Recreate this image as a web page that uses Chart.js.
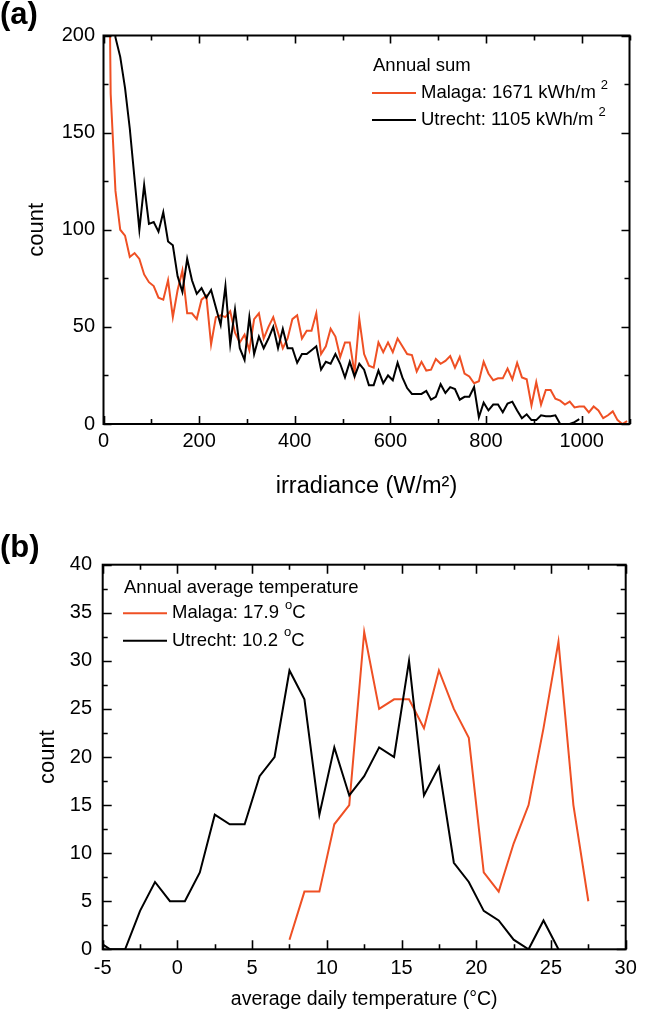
<!DOCTYPE html>
<html>
<head>
<meta charset="utf-8">
<title>Irradiance and daily temperature distributions</title>
<script src="https://cdn.jsdelivr.net/npm/chart.js@4.4.1/dist/chart.umd.min.js"></script>
<style>
  html, body { margin: 0; padding: 0; background: #fff; }
  #page { position: relative; width: 647px; height: 1021px; overflow: hidden; }
  #page canvas { position: absolute; left: 0; }
  #irr-chart { top: 0; }
  #temp-chart { top: 510px; }
  .panel-label { position: absolute; left: 0; font: bold 31px "Liberation Sans", Arial, sans-serif; line-height: 32px; }
</style>
</head>
<body>
<div id="page">
  <canvas id="irr-chart" width="647" height="510"></canvas>
  <canvas id="temp-chart" width="647" height="511"></canvas>
  <div class="panel-label" style="top:-2px">(a)</div>
  <div class="panel-label" style="top:531px">(b)</div>
</div>
<script>
// Panel (a): irradiance histogram, bin centres in W/m2
const irrMalagaX = [
    5, 15, 25, 35, 45, 55, 65, 75, 85, 95,
    105, 115, 125, 135, 145, 155, 165, 175, 185, 195,
    205, 215, 225, 235, 245, 255, 265, 275, 285, 295,
    305, 315, 325, 335, 345, 355, 365, 375, 385, 395,
    405, 415, 425, 435, 445, 455, 465, 475, 485, 495,
    505, 515, 525, 535, 545, 555, 565, 575, 585, 595,
    605, 615, 625, 635, 645, 655, 665, 675, 685, 695,
    705, 715, 725, 735, 745, 755, 765, 775, 785, 795,
    805, 815, 825, 835, 845, 855, 865, 875, 885, 895,
    905, 915, 925, 935, 945, 955, 965, 975, 985, 995,
    1005, 1015, 1025, 1035, 1045, 1055, 1065, 1075, 1085, 1095
];
const irrMalaga = [
    400, 170, 120, 100, 97, 86, 88, 85, 77, 73,
    71, 65, 64, 74, 55, 69, 79, 57, 57, 54,
    64, 66, 41, 55, 56, 55, 58, 47, 42, 46,
    38, 54, 57, 44, 50, 55, 47, 39, 44, 54,
    56, 44, 48, 48, 57, 36, 40, 49, 45, 34.5,
    42, 42, 26, 54, 36, 30, 29, 42, 37, 42,
    37, 44, 40, 36, 35.5, 27, 32, 27.5, 28, 33.5,
    31, 32.5, 35, 29, 34.5, 26, 24.5, 21, 22, 32,
    26, 22.5, 23.5, 23.5, 28.5, 23, 31.5, 24, 23, 9.5,
    21.5, 10, 17.5, 17.5, 13, 12, 10, 11.5, 8.5, 9,
    9, 6, 9, 7, 3, 4.5, 6.5, 2, 0, 1.5
];
const irrUtrechtX = [
    15, 25, 35, 45, 55, 65, 75, 85, 95,
    105, 115, 125, 135, 145, 155, 165, 175, 185, 195,
    205, 215, 225, 235, 245, 255, 265, 275, 285, 295,
    305, 315, 325, 335, 345, 355, 365, 375, 385, 395,
    405, 415, 425, 435, 445, 455, 465, 475, 485, 495,
    505, 515, 525, 535, 545, 555, 565, 575, 585, 595,
    605, 615, 625, 635, 645, 655, 665, 675, 685, 695,
    705, 715, 725, 735, 745, 755, 765, 775, 785, 795,
    805, 815, 825, 835, 845, 855, 865, 875, 885, 895,
    905, 915, 925, 935, 945, 955, 965, 975, 985, 995
];
const irrUtrecht = [
    300, 199, 189, 173, 152, 126, 100, 123, 103,
    104, 99, 109, 94, 92, 76, 68, 85, 74, 67,
    70, 65, 69, 60, 51, 71, 41, 59, 39, 33,
    55, 36, 45, 39, 44, 50, 39, 49, 39, 39,
    31.5, 36, 36, 38, 40, 28, 32, 31, 36, 31,
    24, 32, 24.5, 31, 28, 20, 20, 27.5, 21, 25,
    22.5, 31.5, 24, 18.5, 15.5, 15.5, 15.5, 17, 12.5, 14,
    20.5, 16, 19, 18, 12.5, 14, 14, 19, 3.5, 11,
    7, 10, 10, 6, 10.5, 11.5, 7, 3, 5, 2,
    2, 4.5, 4, 4, 4.5, 0, 0, 0, 1, 2.5
];
const irrTicksX = [0, 200, 400, 600, 800, 1000];
const irrTicksY = [0, 50, 100, 150, 200];

// Panel (b): average daily temperature histogram, bin centres in degC
const tempMalagaX = [7.5, 8.5, 9.5, 10.5, 11.5, 12.5, 13.5, 14.5, 15.5, 16.5,
    17.5, 18.5, 19.5, 20.5, 21.5, 22.5, 23.5, 24.5, 25.5, 26.5, 27.5];
const tempMalaga = [1, 6, 6, 13, 15, 33, 25, 26, 26, 23,
    29, 25, 22, 8, 6, 11, 15, 23, 32, 15, 5];
const tempUtrechtX = [-5.5, -4.5, -3.5, -2.5, -1.5, -0.5, 0.5, 1.5, 2.5, 3.5,
    4.5, 5.5, 6.5, 7.5, 8.5, 9.5, 10.5, 11.5, 12.5, 13.5,
    14.5, 15.5, 16.5, 17.5, 18.5, 19.5, 20.5, 21.5, 22.5, 23.5, 24.5, 25.5];
const tempUtrecht = [1, 0, 0, 4, 7, 5, 5, 8, 14, 13,
    13, 18, 20, 29, 26, 14, 21, 16, 18, 21,
    20, 30, 16, 19, 9, 7, 4, 3, 1, 0, 3, 0];
const tempTicksX = [-5, 0, 5, 10, 15, 20, 25, 30];
const tempTicksY = [0, 5, 10, 15, 20, 25, 30, 35, 40];

// Legend texts
const irrLegendTitle = 'Annual sum';
const irrLegendText = ['Malaga: 1671 kWh/m', 'Utrecht: 1105 kWh/m'];
const tempLegendTitle = 'Annual average temperature';
const tempLegendText = ['Malaga: 17.9 ', 'Utrecht: 10.2 '];

const RED = '#ef5024';
const FONT = '"Liberation Sans", Arial, Helvetica, sans-serif';

Chart.defaults.font.family = FONT;
Chart.defaults.color = '#000';

function toPoints(xs, ys) {
    return xs.map((x, i) => ({ x: x, y: ys[i] }));
}

// Box round the plot area with inward ticks on all four sides
const frameTicks = {
    id: 'frameTicks',
    afterDraw(chart, args, o) {
        const { ctx, chartArea: a, scales: { x, y } } = chart;
        const isMajor = (v, step) => Math.abs(v / step - Math.round(v / step)) < 1e-6;
        ctx.save();
        ctx.strokeStyle = '#000';
        ctx.lineWidth = 1.6;
        ctx.beginPath();
        for (let v = x.min; v <= x.max + 1e-6; v += o.xMinor) {
            const px = Math.round(x.getPixelForValue(v)) + 0.5;
            const len = isMajor(v, o.xMajor) ? o.major : o.minor;
            ctx.moveTo(px, a.bottom); ctx.lineTo(px, a.bottom - len);
            ctx.moveTo(px, a.top); ctx.lineTo(px, a.top + len);
        }
        for (let v = y.min; v <= y.max + 1e-6; v += o.yMinor) {
            const py = Math.round(y.getPixelForValue(v)) + 0.5;
            const len = isMajor(v, o.yMajor) ? o.major : o.minor;
            ctx.moveTo(a.left, py); ctx.lineTo(a.left + len, py);
            ctx.moveTo(a.right, py); ctx.lineTo(a.right - len, py);
        }
        ctx.stroke();
        ctx.lineWidth = 2;
        ctx.strokeRect(a.left, a.top, a.right - a.left, a.bottom - a.top);
        ctx.restore();
    }
};

// Legend in the plot with a heading and superscripts
const boxLegend = {
    id: 'boxLegend',
    afterDraw(chart, args, o) {
        const ctx = chart.ctx;
        ctx.save();
        ctx.fillStyle = '#000';
        ctx.textBaseline = 'middle';
        ctx.textAlign = 'left';
        ctx.font = o.size + 'px ' + FONT;
        ctx.fillText(o.title, o.x + 1, o.titleY);
        o.items.forEach((item, i) => {
            const y = o.rows[i];
            ctx.strokeStyle = item.color;
            ctx.lineWidth = 2;
            ctx.beginPath();
            ctx.moveTo(o.x, y);
            ctx.lineTo(o.x + o.lineLen, y);
            ctx.stroke();
            let tx = o.x + o.lineLen + 5;
            ctx.font = o.size + 'px ' + FONT;
            ctx.fillText(item.text, tx, y);
            tx += ctx.measureText(item.text).width + o.supGap;
            ctx.font = Math.round(o.size * 0.68) + 'px ' + FONT;
            ctx.fillText(item.sup, tx, y - o.supRise);
            tx += ctx.measureText(item.sup).width;
            if (item.tail) {
                ctx.font = o.size + 'px ' + FONT;
                ctx.fillText(item.tail, tx, y);
            }
        });
        ctx.restore();
    }
};

// Linear axis with fixed box size and given labelled ticks
function axis(o) {
    return {
        type: 'linear',
        min: o.min,
        max: o.max,
        grid: { display: false, drawTicks: false },
        border: { display: false },
        ticks: {
            font: { size: 20 },
            padding: o.pad,
            color: '#000',
            callback: (v) => String(v)
        },
        afterBuildTicks: (scale) => {
            scale.ticks = o.ticks.map(v => ({ value: v }));
        },
        afterFit: (scale) => {
            if (o.width) scale.width = o.width;
            if (o.height) scale.height = o.height;
        },
        title: {
            display: true,
            text: o.title,
            font: { size: o.titleSize },
            color: '#000',
            padding: o.titlePad
        }
    };
}

function lineSet(label, xs, ys, color, order) {
    return {
        label: label,
        data: toPoints(xs, ys),
        borderColor: color,
        borderWidth: 2,
        pointRadius: 0,
        tension: 0,
        fill: false,
        order: order
    };
}

const baseOptions = {
    responsive: false,
    animation: false,
    devicePixelRatio: 1,
    plugins: { legend: { display: false }, tooltip: { enabled: false } }
};

// Panel (a)
new Chart(document.getElementById('irr-chart'), {
    type: 'line',
    data: {
        datasets: [
            lineSet('Malaga', irrMalagaX, irrMalaga, RED, 2),
            lineSet('Utrecht', irrUtrechtX, irrUtrecht, '#000', 1)
        ]
    },
    options: {
        ...baseOptions,
        layout: { padding: { top: 35.5, right: 17.5, left: 0, bottom: 0 } },
        scales: {
            x: axis({ min: 0, max: 1100, ticks: irrTicksX, pad: 5, height: 86,
                title: 'irradiance (W/m\u00b2)', titleSize: 23.5, titlePad: { top: 0, bottom: 8.9 } }),
            y: axis({ min: 0, max: 200, ticks: irrTicksY, pad: 8.5, width: 103.5,
                title: 'count', titleSize: 22, titlePad: { top: 23.8, bottom: 0 } })
        },
        plugins: {
            ...baseOptions.plugins,
            frameTicks: { xMinor: 100, xMajor: 200, yMinor: 25, yMajor: 50, major: 8, minor: 5 },
            boxLegend: {
                x: 372, titleY: 66, rows: [93, 120], lineLen: 44, size: 18.5,
                supGap: 5, supRise: 8, title: irrLegendTitle,
                items: [
                    { color: RED, text: irrLegendText[0], sup: '2' },
                    { color: '#000', text: irrLegendText[1], sup: '2' }
                ]
            }
        }
    },
    plugins: [frameTicks, boxLegend]
});

// Panel (b)
new Chart(document.getElementById('temp-chart'), {
    type: 'line',
    data: {
        datasets: [
            lineSet('Malaga', tempMalagaX, tempMalaga, RED, 2),
            lineSet('Utrecht', tempUtrechtX, tempUtrecht, '#000', 1)
        ]
    },
    options: {
        ...baseOptions,
        layout: { padding: { top: 54.7, right: 21.3, left: 0, bottom: 0 } },
        scales: {
            x: axis({ min: -5, max: 30, ticks: tempTicksX, pad: 6.7, height: 71.7,
                title: 'average daily temperature (\u00b0C)', titleSize: 19.5, titlePad: { top: 0, bottom: 9.3 } }),
            y: axis({ min: 0, max: 40, ticks: tempTicksY, pad: 10.7, width: 102.7,
                title: 'count', titleSize: 22, titlePad: { top: 34.8, bottom: 0 } })
        },
        plugins: {
            ...baseOptions.plugins,
            frameTicks: { xMinor: 2.5, xMajor: 5, yMinor: 2.5, yMajor: 5, major: 9, minor: 5 },
            boxLegend: {
                x: 123, titleY: 78.3, rows: [103.3, 130.7], lineLen: 44, size: 18.5,
                supGap: 1, supRise: 8, title: tempLegendTitle,
                items: [
                    { color: RED, text: tempLegendText[0], sup: 'o', tail: 'C' },
                    { color: '#000', text: tempLegendText[1], sup: 'o', tail: 'C' }
                ]
            }
        }
    },
    plugins: [frameTicks, boxLegend]
});
</script>
</body>
</html>
